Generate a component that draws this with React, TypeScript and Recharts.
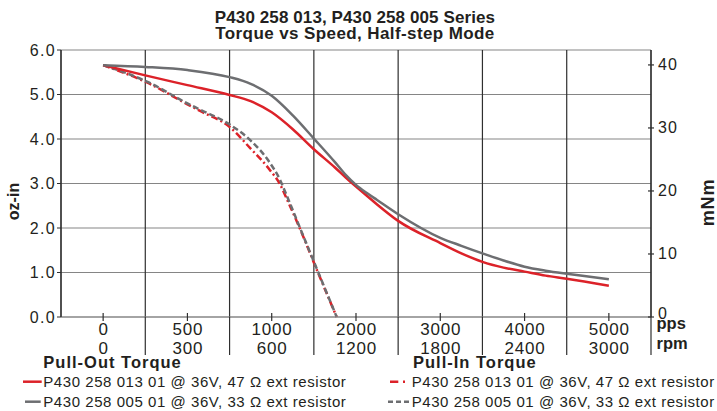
import { LineChart, Line, XAxis, YAxis, CartesianGrid, ReferenceLine } from "recharts";

// tick labels
const ppsTicks = [0, 500, 1000, 2000, 3000, 4000, 5000];
const rpmTicks = [0, 300, 600, 1200, 1800, 2400, 3000];
const ozTicks = [0, 1, 2, 3, 4, 5, 6];
const mnmTicks = [0, 10, 20, 30, 40];
const tickSlots = [0, 1, 2, 3, 4, 5, 6];
const gridSlots = [-0.5, 0.5, 1.5, 2.5, 3.5, 4.5, 5.5, 6.5];

// pull-out torque (oz-in) vs speed (pps)
const pullOutSpeed = [0, 250, 500, 750, 875, 1000, 1250, 1500, 1750, 1875, 2000, 2125, 2250, 2500, 3000, 3250, 3500, 3750, 4000, 4250, 4500, 5000];
const pullOut013 = [5.66, 5.43, 5.21, 4.99, 4.85, 4.6, 4.22, 3.77, 3.36, 3.14, 2.93, 2.73, 2.53, 2.16, 1.66, 1.43, 1.24, 1.11, 1.02, 0.93, 0.86, 0.7];
const pullOut005 = [5.66, 5.62, 5.55, 5.39, 5.24, 4.97, 4.53, 4.01, 3.48, 3.2, 2.97, 2.79, 2.63, 2.31, 1.78, 1.6, 1.43, 1.27, 1.13, 1.04, 0.97, 0.85];

// pull-in torque (oz-in) vs speed (pps)
const pullInSpeed = [0, 260, 500, 575, 757, 871, 990, 1099, 1158, 1336, 1553, 1771];
const pullIn013 = [5.66, 5.27, 4.78, 4.63, 4.25, 3.8, 3.3, 2.98, 2.74, 1.98, 0.98, 0];
const pullIn005 = [5.66, 5.29, 4.8, 4.66, 4.31, 3.98, 3.46, 3.08, 2.82, 2.0, 1.0, 0];

const OZ_TO_MNM = 7.0616;

const RED = "#dc2229";
const GRAY = "#6d6e71";
const TEXT = "#231f20";
const H_GRID = "#858585";
const V_GRID = "#2f2f2f";
const FONT = "'Liberation Sans', Arial, sans-serif";

// the speed axis is 500 pps per step up to 1000, then 1000 pps per step
const toSlot = (pps: number) => (pps <= 1000 ? pps / 500 : 2 + (pps - 1000) / 1000);

const series = (speed: number[], torque: number[]) =>
  speed.map((s, i) => ({ slot: toSlot(s), torque: torque[i] }));

const HALF_STEP = 590 / 14;

function SpeedTick({ x, y, index }: any) {
  return (
    <g>
      <line x1={x} x2={x} y1={y - 4} y2={y + 4} stroke={V_GRID} strokeWidth={1.2} />
      <line x1={x + HALF_STEP} x2={x + HALF_STEP} y1={y} y2={y + 38} stroke={V_GRID} strokeWidth={1.2} />
      <text x={x} y={y} textAnchor="middle" fill={TEXT} fontSize={17} fontFamily={FONT} letterSpacing={0.8}>
        <tspan x={x + 0.4} dy={18}>{ppsTicks[index]}</tspan>
        <tspan x={x + 0.4} dy={19}>{rpmTicks[index]}</tspan>
      </text>
    </g>
  );
}

function MnmTick({ x, y, payload }: any) {
  // the zero label sits a little high, clear of "pps"
  const lift = payload.value === 0 ? -4 : 0;
  return (
    <g>
      <line x1={x - 3} x2={x + 3} y1={y} y2={y} stroke={V_GRID} strokeWidth={1.2} />
      <text x={x + 7} y={y + lift} dy={5.5} fill={TEXT} fontSize={16} fontFamily={FONT} letterSpacing={1.2}>
        {payload.value}
      </text>
    </g>
  );
}

function OzTick({ x, y, payload }: any) {
  return (
    <text x={x + 1} y={y} dy={5.5} textAnchor="end" fill={TEXT} fontSize={16} fontFamily={FONT} letterSpacing={1.3}>
      {payload.value.toFixed(1)}
    </text>
  );
}

export default function App() {
  const out013 = series(pullOutSpeed, pullOut013);
  const out005 = series(pullOutSpeed, pullOut005);
  const in013 = series(pullInSpeed, pullIn013);
  const in005 = series(pullInSpeed, pullIn005);

  return (
    <div style={{ position: "absolute", left: 0, top: 0, width: 717, height: 411, background: "#fff" }}>
      <LineChart width={717} height={411} margin={{ top: 50, right: 0, bottom: 0, left: 0 }}>
        <CartesianGrid yAxisId="oz" vertical={false} stroke={H_GRID} strokeWidth={1.2} />
        {gridSlots.map((g) => (
          <ReferenceLine key={g} x={g} yAxisId="oz" stroke={V_GRID} strokeWidth={1.2} />
        ))}
        <XAxis
          dataKey="slot"
          type="number"
          domain={[-0.5, 6.5]}
          ticks={tickSlots}
          interval={0}
          height={94}
          tickSize={0}
          tickMargin={0}
          axisLine={{ stroke: H_GRID, strokeWidth: 1.2 }}
          tick={<SpeedTick />}
        />
        <YAxis
          yAxisId="oz"
          domain={[0, 6]}
          ticks={ozTicks}
          width={61}
          tickSize={4}
          tickMargin={2}
          axisLine={{ stroke: V_GRID, strokeWidth: 1.2 }}
          tickLine={{ stroke: V_GRID }}
          tick={<OzTick />}
        />
        <YAxis
          yAxisId="mnm"
          orientation="right"
          domain={[0, 6 * OZ_TO_MNM]}
          allowDataOverflow
          ticks={mnmTicks}
          width={66}
          tickSize={0}
          tickMargin={0}
          axisLine={{ stroke: V_GRID, strokeWidth: 1.2 }}
          tick={<MnmTick />}
        />
        <Line yAxisId="oz" data={in013} dataKey="torque" type="monotone" stroke={RED} strokeWidth={2.5} strokeDasharray="7 3 2 3" dot={false} isAnimationActive={false} />
        <Line yAxisId="oz" data={in005} dataKey="torque" type="monotone" stroke={GRAY} strokeWidth={2.5} strokeDasharray="6 3" dot={false} isAnimationActive={false} />
        <Line yAxisId="oz" data={out013} dataKey="torque" type="monotone" stroke={RED} strokeWidth={2.5} dot={false} isAnimationActive={false} />
        <Line yAxisId="oz" data={out005} dataKey="torque" type="monotone" stroke={GRAY} strokeWidth={2.5} dot={false} isAnimationActive={false} />
      </LineChart>

      <svg width={717} height={411} style={{ position: "absolute", left: 0, top: 0, pointerEvents: "none" }} fontFamily={FONT} fill={TEXT}>
        <text x={355} y={22.7} textAnchor="middle" fontWeight="bold" fontSize={17} letterSpacing={0.1}>
          P430 258 013, P430 258 005 Series
        </text>
        <text x={355} y={38.7} textAnchor="middle" fontWeight="bold" fontSize={17} letterSpacing={0.4}>
          Torque vs Speed, Half-step Mode
        </text>
        <text transform="translate(18.5,201.5) rotate(-90)" textAnchor="middle" fontWeight="bold" fontSize={16}>
          oz-in
        </text>
        <text transform="translate(714,202.5) rotate(-90)" textAnchor="middle" fontWeight="bold" fontSize={18} letterSpacing={0.8}>
          mNm
        </text>
        <text x={656.5} y={328.5} fontWeight="bold" fontSize={16.5}>pps</text>
        <text x={656.5} y={348.5} fontWeight="bold" fontSize={16.5}>rpm</text>

        <text x={43.3} y={368.3} fontWeight="bold" fontSize={16.5} letterSpacing={1}>Pull-Out Torque</text>
        <line x1={23} x2={41.7} y1={381.7} y2={381.7} stroke={RED} strokeWidth={2.5} />
        <text x={43.3} y={387.3} fontSize={15} letterSpacing={0.55}>P430 258 013 01 @ 36V, 47 Ω ext resistor</text>
        <line x1={25} x2={40.7} y1={401.7} y2={401.7} stroke={GRAY} strokeWidth={2.5} />
        <text x={43.3} y={407.3} fontSize={15} letterSpacing={0.55}>P430 258 005 01 @ 36V, 33 Ω ext resistor</text>

        <text x={413} y={368.3} fontWeight="bold" fontSize={16.5} letterSpacing={1}>Pull-In Torque</text>
        <line x1={390} x2={405} y1={381.7} y2={381.7} stroke={RED} strokeWidth={2.5} strokeDasharray="8.3 4.7 2 10" />
        <text x={411.7} y={387.3} fontSize={15} letterSpacing={0.55}>P430 258 013 01 @ 36V, 47 Ω ext resistor</text>
        <line x1={388} x2={409} y1={401.7} y2={401.7} stroke={GRAY} strokeWidth={2.5} strokeDasharray="5 3" />
        <text x={411.7} y={407.3} fontSize={15} letterSpacing={0.55}>P430 258 005 01 @ 36V, 33 Ω ext resistor</text>
      </svg>
    </div>
  );
}
